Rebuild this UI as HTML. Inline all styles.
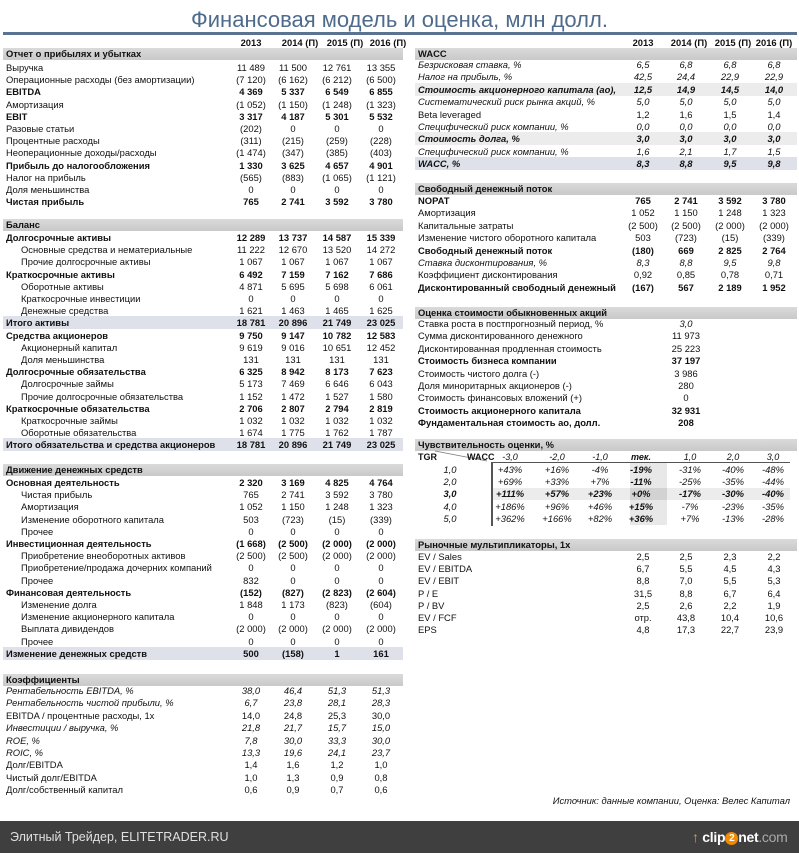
<!DOCTYPE html>
<html><head><meta charset="utf-8">
<style>
*{margin:0;padding:0;box-sizing:border-box}
body{width:799px;height:853px;position:relative;background:#fff;font-family:"Liberation Sans","DejaVu Sans",sans-serif;font-size:9.4px;color:#111;overflow:hidden}
.r{position:absolute;height:13px;line-height:13px;white-space:nowrap}
.L{left:3px;width:400px;padding-left:3px}
.R{left:415px;width:382px;padding-left:3px}
.i{padding-left:18px}
.b{font-weight:bold}
.it{font-style:italic}
.r span{position:absolute;width:70px;text-align:center;top:0}
.L .a{left:213px}.L .c2{left:255px}.L .c3{left:299px}.L .c4{left:343px}
.R .a{left:193px}.R .c2{left:236px}.R .c3{left:280px}.R .c4{left:324px}
.R .v{left:236px}
.bar{position:absolute;height:12px;line-height:12px;background:linear-gradient(#dadada,#c9c9c9);font-weight:bold;padding-left:3px;white-space:nowrap}
.hd{text-decoration:underline;font-weight:bold}
.sh{background:#dfe1ea}
.sg{background:#ececec}
.s span{position:absolute;text-align:center;width:40px;font-style:italic}
.s .k1{left:75px}.s .k2{left:122px}.s .k3{left:165px}.s .k4{left:206px}.s .k5{left:255px}.s .k6{left:298px}.s .k7{left:338px}.s .k0{left:15px}
</style></head><body>
<div style="position:absolute;left:0;top:6px;width:799px;text-align:center;font-size:22px;color:#4f6b8c;line-height:28px">Финансовая модель и оценка, млн долл.</div>
<div style="position:absolute;left:3px;top:32px;width:794px;height:3px;background:#5a7393"></div>

<!-- LEFT -->
<div class="r L hd" style="top:36px"><span class="a">2013</span><span class="c2" style="left:262px">2014 (П)</span><span class="c3" style="left:307px">2015 (П)</span><span class="c4" style="left:350px">2016 (П)</span></div>
<div class="bar" style="left:3px;width:400px;top:48px">Отчет о прибылях и убытках</div>
<div class="r L" style="top:61px">Выручка<span class="a">11 489</span><span class="c2">11 500</span><span class="c3">12 761</span><span class="c4">13 355</span></div>
<div class="r L" style="top:73px">Операционные расходы (без амортизации)<span class="a">(7 120)</span><span class="c2">(6 162)</span><span class="c3">(6 212)</span><span class="c4">(6 500)</span></div>
<div class="r L b" style="top:85px">EBITDA<span class="a">4 369</span><span class="c2">5 337</span><span class="c3">6 549</span><span class="c4">6 855</span></div>
<div class="r L" style="top:98px">Амортизация<span class="a">(1 052)</span><span class="c2">(1 150)</span><span class="c3">(1 248)</span><span class="c4">(1 323)</span></div>
<div class="r L b" style="top:110px">EBIT<span class="a">3 317</span><span class="c2">4 187</span><span class="c3">5 301</span><span class="c4">5 532</span></div>
<div class="r L" style="top:122px">Разовые статьи<span class="a">(202)</span><span class="c2">0</span><span class="c3">0</span><span class="c4">0</span></div>
<div class="r L" style="top:134px">Процентные расходы<span class="a">(311)</span><span class="c2">(215)</span><span class="c3">(259)</span><span class="c4">(228)</span></div>
<div class="r L" style="top:146px">Неоперационные доходы/расходы<span class="a">(1 474)</span><span class="c2">(347)</span><span class="c3">(385)</span><span class="c4">(403)</span></div>
<div class="r L b" style="top:159px">Прибыль до налогообложения<span class="a">1 330</span><span class="c2">3 625</span><span class="c3">4 657</span><span class="c4">4 901</span></div>
<div class="r L" style="top:171px">Налог на прибыль<span class="a">(565)</span><span class="c2">(883)</span><span class="c3">(1 065)</span><span class="c4">(1 121)</span></div>
<div class="r L" style="top:183px">Доля меньшинства<span class="a">0</span><span class="c2">0</span><span class="c3">0</span><span class="c4">0</span></div>
<div class="r L b" style="top:195px">Чистая прибыль<span class="a">765</span><span class="c2">2 741</span><span class="c3">3 592</span><span class="c4">3 780</span></div>

<div class="bar" style="left:3px;width:400px;top:219px">Баланс</div>
<div class="r L b" style="top:231px">Долгосрочные активы<span class="a">12 289</span><span class="c2">13 737</span><span class="c3">14 587</span><span class="c4">15 339</span></div>
<div class="r L i" style="top:243px">Основные средства и нематериальные<span class="a">11 222</span><span class="c2">12 670</span><span class="c3">13 520</span><span class="c4">14 272</span></div>
<div class="r L i" style="top:255px">Прочие долгосрочные активы<span class="a">1 067</span><span class="c2">1 067</span><span class="c3">1 067</span><span class="c4">1 067</span></div>
<div class="r L b" style="top:268px">Краткосрочные активы<span class="a">6 492</span><span class="c2">7 159</span><span class="c3">7 162</span><span class="c4">7 686</span></div>
<div class="r L i" style="top:280px">Оборотные активы<span class="a">4 871</span><span class="c2">5 695</span><span class="c3">5 698</span><span class="c4">6 061</span></div>
<div class="r L i" style="top:292px">Краткосрочные инвестиции<span class="a">0</span><span class="c2">0</span><span class="c3">0</span><span class="c4">0</span></div>
<div class="r L i" style="top:304px">Денежные средства<span class="a">1 621</span><span class="c2">1 463</span><span class="c3">1 465</span><span class="c4">1 625</span></div>
<div class="r L b sh" style="top:316px">Итого активы<span class="a">18 781</span><span class="c2">20 896</span><span class="c3">21 749</span><span class="c4">23 025</span></div>
<div class="r L b" style="top:329px">Средства акционеров<span class="a">9 750</span><span class="c2">9 147</span><span class="c3">10 782</span><span class="c4">12 583</span></div>
<div class="r L i" style="top:341px">Акционерный капитал<span class="a">9 619</span><span class="c2">9 016</span><span class="c3">10 651</span><span class="c4">12 452</span></div>
<div class="r L i" style="top:353px">Доля меньшинства<span class="a">131</span><span class="c2">131</span><span class="c3">131</span><span class="c4">131</span></div>
<div class="r L b" style="top:365px">Долгосрочные обязательства<span class="a">6 325</span><span class="c2">8 942</span><span class="c3">8 173</span><span class="c4">7 623</span></div>
<div class="r L i" style="top:377px">Долгосрочные займы<span class="a">5 173</span><span class="c2">7 469</span><span class="c3">6 646</span><span class="c4">6 043</span></div>
<div class="r L i" style="top:390px">Прочие долгосрочные обязательства<span class="a">1 152</span><span class="c2">1 472</span><span class="c3">1 527</span><span class="c4">1 580</span></div>
<div class="r L b" style="top:402px">Краткосрочные обязательства<span class="a">2 706</span><span class="c2">2 807</span><span class="c3">2 794</span><span class="c4">2 819</span></div>
<div class="r L i" style="top:414px">Краткосрочные займы<span class="a">1 032</span><span class="c2">1 032</span><span class="c3">1 032</span><span class="c4">1 032</span></div>
<div class="r L i" style="top:426px">Оборотные обязательства<span class="a">1 674</span><span class="c2">1 775</span><span class="c3">1 762</span><span class="c4">1 787</span></div>
<div class="r L b sh" style="top:438px">Итого обязательства и средства акционеров<span class="a">18 781</span><span class="c2">20 896</span><span class="c3">21 749</span><span class="c4">23 025</span></div>

<div class="bar" style="left:3px;width:400px;top:464px">Движение денежных средств</div>
<div class="r L b" style="top:476px">Основная деятельность<span class="a">2 320</span><span class="c2">3 169</span><span class="c3">4 825</span><span class="c4">4 764</span></div>
<div class="r L i" style="top:488px">Чистая прибыль<span class="a">765</span><span class="c2">2 741</span><span class="c3">3 592</span><span class="c4">3 780</span></div>
<div class="r L i" style="top:500px">Амортизация<span class="a">1 052</span><span class="c2">1 150</span><span class="c3">1 248</span><span class="c4">1 323</span></div>
<div class="r L i" style="top:513px">Изменение оборотного капитала<span class="a">503</span><span class="c2">(723)</span><span class="c3">(15)</span><span class="c4">(339)</span></div>
<div class="r L i" style="top:525px">Прочее<span class="a">0</span><span class="c2">0</span><span class="c3">0</span><span class="c4">0</span></div>
<div class="r L b" style="top:537px">Инвестиционная деятельность<span class="a">(1 668)</span><span class="c2">(2 500)</span><span class="c3">(2 000)</span><span class="c4">(2 000)</span></div>
<div class="r L i" style="top:549px">Приобретение внеоборотных активов<span class="a">(2 500)</span><span class="c2">(2 500)</span><span class="c3">(2 000)</span><span class="c4">(2 000)</span></div>
<div class="r L i" style="top:561px">Приобретение/продажа дочерних компаний<span class="a">0</span><span class="c2">0</span><span class="c3">0</span><span class="c4">0</span></div>
<div class="r L i" style="top:574px">Прочее<span class="a">832</span><span class="c2">0</span><span class="c3">0</span><span class="c4">0</span></div>
<div class="r L b" style="top:586px">Финансовая деятельность<span class="a">(152)</span><span class="c2">(827)</span><span class="c3">(2 823)</span><span class="c4">(2 604)</span></div>
<div class="r L i" style="top:598px">Изменение долга<span class="a">1 848</span><span class="c2">1 173</span><span class="c3">(823)</span><span class="c4">(604)</span></div>
<div class="r L i" style="top:610px">Изменение акционерного капитала<span class="a">0</span><span class="c2">0</span><span class="c3">0</span><span class="c4">0</span></div>
<div class="r L i" style="top:622px">Выплата дивидендов<span class="a">(2 000)</span><span class="c2">(2 000)</span><span class="c3">(2 000)</span><span class="c4">(2 000)</span></div>
<div class="r L i" style="top:635px">Прочее<span class="a">0</span><span class="c2">0</span><span class="c3">0</span><span class="c4">0</span></div>
<div class="r L b sh" style="top:647px">Изменение денежных средств<span class="a">500</span><span class="c2">(158)</span><span class="c3">1</span><span class="c4">161</span></div>

<div class="bar" style="left:3px;width:400px;top:674px">Коэффициенты</div>
<div class="r L it" style="top:684px">Рентабельность EBITDA, %<span class="a">38,0</span><span class="c2">46,4</span><span class="c3">51,3</span><span class="c4">51,3</span></div>
<div class="r L it" style="top:696px">Рентабельность чистой прибыли, %<span class="a">6,7</span><span class="c2">23,8</span><span class="c3">28,1</span><span class="c4">28,3</span></div>
<div class="r L" style="top:709px">EBITDA / процентные расходы, 1x<span class="a">14,0</span><span class="c2">24,8</span><span class="c3">25,3</span><span class="c4">30,0</span></div>
<div class="r L it" style="top:721px">Инвестиции / выручка, %<span class="a">21,8</span><span class="c2">21,7</span><span class="c3">15,7</span><span class="c4">15,0</span></div>
<div class="r L it" style="top:734px">ROE, %<span class="a">7,8</span><span class="c2">30,0</span><span class="c3">33,3</span><span class="c4">30,0</span></div>
<div class="r L it" style="top:746px">ROIC, %<span class="a">13,3</span><span class="c2">19,6</span><span class="c3">24,1</span><span class="c4">23,7</span></div>
<div class="r L" style="top:758px">Долг/EBITDA<span class="a">1,4</span><span class="c2">1,6</span><span class="c3">1,2</span><span class="c4">1,0</span></div>
<div class="r L" style="top:771px">Чистый долг/EBITDA<span class="a">1,0</span><span class="c2">1,3</span><span class="c3">0,9</span><span class="c4">0,8</span></div>
<div class="r L" style="top:783px">Долг/собственный капитал<span class="a">0,6</span><span class="c2">0,9</span><span class="c3">0,7</span><span class="c4">0,6</span></div>

<div style="position:absolute;right:9px;top:795px;font-style:italic;font-size:9.4px">Источник: данные компании, Оценка: Велес Капитал</div>

<!-- RIGHT -->
<div class="r R hd" style="top:36px"><span class="a">2013</span><span class="c2" style="left:239px">2014 (П)</span><span class="c3" style="left:283px">2015 (П)</span><span class="c4" style="left:324px">2016 (П)</span></div>
<div class="bar" style="left:415px;width:382px;top:48px">WACC</div>
<div class="r R it" style="top:58px">Безрисковая ставка, %<span class="a">6,5</span><span class="c2">6,8</span><span class="c3">6,8</span><span class="c4">6,8</span></div>
<div class="r R it" style="top:70px">Налог на прибыль, %<span class="a">42,5</span><span class="c2">24,4</span><span class="c3">22,9</span><span class="c4">22,9</span></div>
<div class="r R it b sg" style="top:83px">Стоимость акционерного капитала (ао),<span class="a">12,5</span><span class="c2">14,9</span><span class="c3">14,5</span><span class="c4">14,0</span></div>
<div class="r R it" style="top:95px">Систематический риск рынка акций, %<span class="a">5,0</span><span class="c2">5,0</span><span class="c3">5,0</span><span class="c4">5,0</span></div>
<div class="r R" style="top:108px">Beta leveraged<span class="a">1,2</span><span class="c2">1,6</span><span class="c3">1,5</span><span class="c4">1,4</span></div>
<div class="r R it" style="top:120px">Специфический риск компании, %<span class="a">0,0</span><span class="c2">0,0</span><span class="c3">0,0</span><span class="c4">0,0</span></div>
<div class="r R it b sg" style="top:132px">Стоимость долга, %<span class="a">3,0</span><span class="c2">3,0</span><span class="c3">3,0</span><span class="c4">3,0</span></div>
<div class="r R it" style="top:145px">Специфический риск компании, %<span class="a">1,6</span><span class="c2">2,1</span><span class="c3">1,7</span><span class="c4">1,5</span></div>
<div class="r R it b sh" style="top:157px">WACC, %<span class="a">8,3</span><span class="c2">8,8</span><span class="c3">9,5</span><span class="c4">9,8</span></div>

<div class="bar" style="left:415px;width:382px;top:183px">Свободный денежный поток</div>
<div class="r R b" style="top:194px">NOPAT<span class="a">765</span><span class="c2">2 741</span><span class="c3">3 592</span><span class="c4">3 780</span></div>
<div class="r R" style="top:206px">Амортизация<span class="a">1 052</span><span class="c2">1 150</span><span class="c3">1 248</span><span class="c4">1 323</span></div>
<div class="r R" style="top:219px">Капитальные затраты<span class="a">(2 500)</span><span class="c2">(2 500)</span><span class="c3">(2 000)</span><span class="c4">(2 000)</span></div>
<div class="r R" style="top:231px">Изменение чистого оборотного капитала<span class="a">503</span><span class="c2">(723)</span><span class="c3">(15)</span><span class="c4">(339)</span></div>
<div class="r R b" style="top:244px">Свободный денежный поток<span class="a">(180)</span><span class="c2">669</span><span class="c3">2 825</span><span class="c4">2 764</span></div>
<div class="r R it" style="top:256px">Ставка дисконтирования, %<span class="a">8,3</span><span class="c2">8,8</span><span class="c3">9,5</span><span class="c4">9,8</span></div>
<div class="r R" style="top:268px">Коэффициент дисконтирования<span class="a">0,92</span><span class="c2">0,85</span><span class="c3">0,78</span><span class="c4">0,71</span></div>
<div class="r R b" style="top:281px">Дисконтированный свободный денежный<span class="a">(167)</span><span class="c2">567</span><span class="c3">2 189</span><span class="c4">1 952</span></div>

<div class="bar" style="left:415px;width:382px;top:307px">Оценка стоимости обыкновенных акций</div>
<div class="r R" style="top:317px">Ставка роста в постпрогнозный период, %<span class="v it">3,0</span></div>
<div class="r R" style="top:329px">Сумма дисконтированного денежного<span class="v">11 973</span></div>
<div class="r R" style="top:342px">Дисконтированная продленная стоимость<span class="v">25 223</span></div>
<div class="r R b" style="top:354px">Стоимость бизнеса компании<span class="v">37 197</span></div>
<div class="r R" style="top:367px">Стоимость чистого долга (-)<span class="v">3 986</span></div>
<div class="r R" style="top:379px">Доля миноритарных акционеров (-)<span class="v">280</span></div>
<div class="r R" style="top:391px">Стоимость финансовых вложений (+)<span class="v">0</span></div>
<div class="r R b" style="top:404px">Стоимость акционерного капитала<span class="v">32 931</span></div>
<div class="r R b" style="top:416px">Фундаментальная стоимость ао, долл.<span class="v">208</span></div>

<div class="bar" style="left:415px;width:382px;top:439px">Чувствительность оценки, %</div>
<div style="position:absolute;left:630px;top:463px;width:37px;height:62px;background:#e8e8e8"></div>
<div style="position:absolute;left:492px;top:488px;width:298px;height:12px;background:#ececec"></div>
<div style="position:absolute;left:630px;top:488px;width:37px;height:12px;background:#d2d2d2"></div>
<div style="position:absolute;left:492px;top:462px;width:298px;height:1px;background:#555"></div>
<div style="position:absolute;left:491px;top:462px;width:1.5px;height:64px;background:#555"></div>
<svg style="position:absolute;left:415px;top:450px" width="80" height="14"><line x1="20" y1="1" x2="72" y2="11" stroke="#777" stroke-width="0.8"/></svg>
<div class="r s" style="top:451px;left:415px;width:382px;font-size:9px"><b style="position:absolute;left:3px">TGR</b><b style="position:absolute;left:52px">WACC</b><span class="k1">-3,0</span><span class="k2">-2,0</span><span class="k3">-1,0</span><span class="k4" style="font-weight:bold">тек.</span><span class="k5">1,0</span><span class="k6">2,0</span><span class="k7">3,0</span></div>
<div class="r s" style="top:463px;left:415px;width:382px"><span class="k0">1,0</span><span class="k1">+43%</span><span class="k2">+16%</span><span class="k3">-4%</span><span class="k4" style="font-weight:bold">-19%</span><span class="k5">-31%</span><span class="k6">-40%</span><span class="k7">-48%</span></div>
<div class="r s" style="top:475px;left:415px;width:382px"><span class="k0">2,0</span><span class="k1">+69%</span><span class="k2">+33%</span><span class="k3">+7%</span><span class="k4" style="font-weight:bold">-11%</span><span class="k5">-25%</span><span class="k6">-35%</span><span class="k7">-44%</span></div>
<div class="r s b" style="top:487px;left:415px;width:382px"><span class="k0">3,0</span><span class="k1">+111%</span><span class="k2">+57%</span><span class="k3">+23%</span><span class="k4">+0%</span><span class="k5">-17%</span><span class="k6">-30%</span><span class="k7">-40%</span></div>
<div class="r s" style="top:500px;left:415px;width:382px"><span class="k0">4,0</span><span class="k1">+186%</span><span class="k2">+96%</span><span class="k3">+46%</span><span class="k4" style="font-weight:bold">+15%</span><span class="k5">-7%</span><span class="k6">-23%</span><span class="k7">-35%</span></div>
<div class="r s" style="top:512px;left:415px;width:382px"><span class="k0">5,0</span><span class="k1">+362%</span><span class="k2">+166%</span><span class="k3">+82%</span><span class="k4" style="font-weight:bold">+36%</span><span class="k5">+7%</span><span class="k6">-13%</span><span class="k7">-28%</span></div>

<div class="bar" style="left:415px;width:382px;top:539px">Рыночные мультипликаторы, 1x</div>
<div class="r R" style="top:550px">EV / Sales<span class="a">2,5</span><span class="c2">2,5</span><span class="c3">2,3</span><span class="c4">2,2</span></div>
<div class="r R" style="top:562px">EV / EBITDA<span class="a">6,7</span><span class="c2">5,5</span><span class="c3">4,5</span><span class="c4">4,3</span></div>
<div class="r R" style="top:574px">EV / EBIT<span class="a">8,8</span><span class="c2">7,0</span><span class="c3">5,5</span><span class="c4">5,3</span></div>
<div class="r R" style="top:587px">P / E<span class="a">31,5</span><span class="c2">8,8</span><span class="c3">6,7</span><span class="c4">6,4</span></div>
<div class="r R" style="top:599px">P / BV<span class="a">2,5</span><span class="c2">2,6</span><span class="c3">2,2</span><span class="c4">1,9</span></div>
<div class="r R" style="top:611px">EV / FCF<span class="a">отр.</span><span class="c2">43,8</span><span class="c3">10,4</span><span class="c4">10,6</span></div>
<div class="r R" style="top:623px">EPS<span class="a">4,8</span><span class="c2">17,3</span><span class="c3">22,7</span><span class="c4">23,9</span></div>

<!-- footer -->
<div style="position:absolute;left:0;top:821px;width:799px;height:32px;background:#3f3f3f"></div>
<div style="position:absolute;left:10px;top:829px;color:#e0e0e0;font-size:12.5px;line-height:16px">Элитный Трейдер, ELITETRADER.RU</div>
<div style="position:absolute;left:692px;top:826px;height:22px;line-height:22px;font-size:14px;font-weight:bold;color:#fff;white-space:nowrap;letter-spacing:-0.3px">
<span style="color:#e8a020">&#x2191;</span> clip<span style="display:inline-block;width:13px;height:13px;border-radius:7px;background:#f08a00;font-size:10px;line-height:13px;text-align:center;vertical-align:1px">2</span>net<span style="color:#aaa;font-weight:normal">.com</span></div>
</body></html>
